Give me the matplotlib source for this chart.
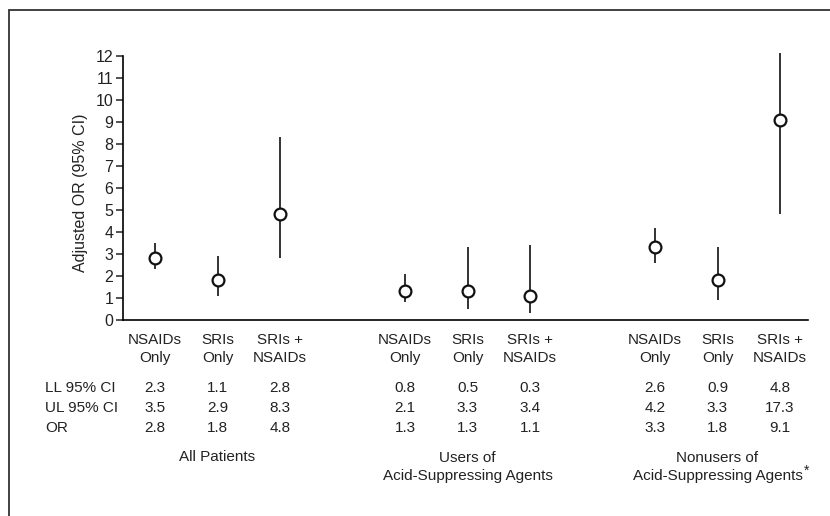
import matplotlib
matplotlib.use('Agg')
import matplotlib.pyplot as plt
from matplotlib.patches import Rectangle
from matplotlib.transforms import blended_transform_factory

plt.rcParams['font.family'] = ['Liberation Sans Narrow', 'Liberation Sans', 'DejaVu Sans']

# data
groups = ["All Patients", "Users of\nAcid-Suppressing Agents", "Nonusers of\nAcid-Suppressing Agents"]
categories = ["NSAIDs\nOnly", "SRIs\nOnly", "SRIs +\nNSAIDs"]
positions = [0, 1, 2, 4, 5, 6, 8, 9, 10]
ll = [2.3, 1.1, 2.8, 0.8, 0.5, 0.3, 2.6, 0.9, 4.8]
ul = [3.5, 2.9, 8.3, 2.1, 3.3, 3.4, 4.2, 3.3, 17.3]
odds = [2.8, 1.8, 4.8, 1.3, 1.3, 1.1, 3.3, 1.8, 9.1]
yticks = list(range(0, 13))

W, H = 830, 516
fig = plt.figure(figsize=(W / 100, H / 100), dpi=100)

def fy(py):
    return 1 - py / H

ax = fig.add_axes([123 / W, fy(320), (808 - 123) / W, (320 - 52.7) / H])
ax.set_xlim(-0.512, 10.448)
ax.set_ylim(0, 12.15)

ax.vlines(positions, ll, ul, color='#222222', lw=1.3, zorder=2)
ax.plot(positions, odds, 'o', ms=8.5, mfc='white', mec='#111111', mew=1.6, zorder=3)

for s in ['top', 'right']:
    ax.spines[s].set_visible(False)
ax.spines['left'].set_bounds(0, 12)
ax.spines['left'].set_linewidth(1.2)
ax.spines['bottom'].set_linewidth(1.2)
ax.set_xticks([])
ax.set_yticks(yticks)
ax.tick_params(axis='y', length=5, width=1.1, labelsize=11.5, pad=2, color='#222222',
               labelcolor='#222222')

fig.text(80 / W, fy(193), "Adjusted OR (95% CI)", rotation=90, ha='center', va='center',
         fontsize=11.5, color='#222222')

# table beneath the axis
tr = blended_transform_factory(ax.transData, fig.transFigure)
fs = 11
tc = '#222222'
for i, x in enumerate(positions):
    fig.text(x, fy(349), categories[i % 3], transform=tr, ha='center', va='center',
             fontsize=fs, linespacing=1.4, color=tc)
    fig.text(x, fy(388), f"{ll[i]:.1f}", transform=tr, ha='center', va='center', fontsize=fs, color=tc)
    fig.text(x, fy(408), f"{ul[i]:.1f}", transform=tr, ha='center', va='center', fontsize=fs, color=tc)
    fig.text(x, fy(428), f"{odds[i]:.1f}", transform=tr, ha='center', va='center', fontsize=fs, color=tc)

for lab, py in zip(["LL 95% CI", "UL 95% CI", "OR"], [388, 408, 428]):
    fig.text(45 / W, fy(py), lab, ha='left', va='center', fontsize=fs, color=tc)

for g, name in enumerate(groups):
    cx = positions[g * 3 + 1]
    if "\n" in name:
        fig.text(cx, fy(467), name, transform=tr, ha='center', va='center',
                 fontsize=fs, linespacing=1.4, color=tc)
    else:
        fig.text(cx, fy(457), name, transform=tr, ha='center', va='center', fontsize=fs, color=tc)

# superscript asterisk after the last group title
last = fig.texts[-1]
fig.canvas.draw()
bb = last.get_window_extent()
fig.text((bb.x1 + 1) / W, fy(471), "*", ha='left', va='center', fontsize=10, color=tc)

# frame around the figure (right and bottom edges fall outside the image)
fig.add_artist(Rectangle((9 / W, -0.1), 1.2, fy(10) + 0.1, transform=fig.transFigure,
                         fill=False, lw=1.3, edgecolor='#333333'))

fig.savefig('out.png', dpi=100)
